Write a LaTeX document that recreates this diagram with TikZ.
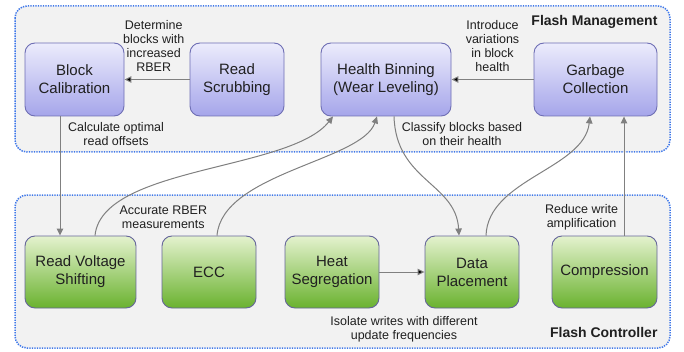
\documentclass[tikz,border=0pt]{standalone}
\usepackage{fontspec}
\setmainfont{Liberation Sans}
\usetikzlibrary{arrows.meta}
\usetikzlibrary{positioning}

\definecolor{panelfill}{HTML}{F2F2F2}
\definecolor{panelline}{HTML}{3F78EA}
\definecolor{mgmttop}{HTML}{ECECFC}
\definecolor{mgmtbot}{HTML}{A5A5EA}
\definecolor{mgmtline}{HTML}{6E6EB4}
\definecolor{ctrltop}{HTML}{E4F2CE}
\definecolor{ctrlbot}{HTML}{6AB22F}
\definecolor{ctrlline}{HTML}{65659A}
\definecolor{flowgray}{HTML}{808080}
\definecolor{txt}{HTML}{202020}

\begin{document}
\begin{tikzpicture}[x=1pt,y=1pt,on grid,text=txt,
		panel/.style={fill=panelfill,draw=panelline,line width=1.5pt,
			dash pattern=on 1.4pt off 1.1pt,rounded corners=12pt},
		mgmt/.style={draw=mgmtline,line width=0.9pt,rounded corners=10pt,
			top color=mgmttop,bottom color=mgmtbot,minimum height=73pt,
			align=center,font=\fontsize{15}{18}\selectfont},
		ctrl/.style={draw=ctrlline,line width=0.9pt,rounded corners=10pt,
			top color=ctrltop,bottom color=ctrlbot,minimum height=72pt,
			align=center,font=\fontsize{15}{18}\selectfont},
		note/.style={align=center,font=\fontsize{12.5}{14}\selectfont},
		title/.style={font=\fontsize{14}{16}\selectfont\bfseries},
		flow/.style={draw=flowgray,line width=1pt,
			-{Triangle[length=7pt,width=6.5pt]}}]
	\useasboundingbox (0,0) rectangle (684,351);

	% the two groups
	\path[panel] (15,345) rectangle (670,199);
	\path[panel] (15,156) rectangle (670,3);

	% flash management
	\node[mgmt,minimum width=99pt] (blockcal) at (74.5,271.5) {Block\\Calibration};
	\node[mgmt,minimum width=94pt] (readscrub) [right=162.5pt of blockcal] {Read\\Scrubbing};
	\node[mgmt,minimum width=130pt] (healthbin) [right=149pt of readscrub] {Health Binning\\(Wear Leveling)};
	\node[mgmt,minimum width=123pt] (garbage) [right=209.5pt of healthbin] {Garbage\\Collection};

	% flash controller
	\node[ctrl,minimum width=111pt] (rvs) at (80.5,79) {Read Voltage\\Shifting};
	\node[ctrl,minimum width=94pt] (ecc) [right=128.5pt of rvs] {ECC};
	\node[ctrl,minimum width=94pt] (heatseg) [right=123pt of ecc] {Heat\\Segregation};
	\node[ctrl,minimum width=94pt] (dataplace) [right=140pt of heatseg] {Data\\Placement};
	\node[ctrl,minimum width=105pt] (compress) [right=132.5pt of dataplace] {Compression};

	\node[title,anchor=east] (mgmttitle) at (661,329) {Flash Management};
	\node[title,anchor=east] (ctrltitle) at (661,19) {Flash Controller};

	\path[flow]
		(readscrub) edge node[note,above=4pt,pos=0.55] {Determine\\blocks with\\increased\\RBER} (blockcal)
		(garbage) edge node[note,above=4pt,pos=0.5] {Introduce\\variations\\in block\\health} (healthbin)
		(heatseg) edge (dataplace);

	\draw[flow] ([xshift=-14.5pt]blockcal.south) -- ([xshift=-14.5pt]blockcal.south |- rvs.north);
	\draw[flow] ([xshift=14.5pt]rvs.north) .. controls (102,185) and (290,180) .. ([xshift=-53pt]healthbin.south);
	\draw[flow] ([xshift=8pt]ecc.north) .. controls (222,178) and (362,190) .. ([xshift=-9pt]healthbin.south);
	\draw[flow] ([xshift=8pt]healthbin.south) .. controls (396,170) and (456,168) .. ([xshift=-13pt]dataplace.north);
	\draw[flow] ([xshift=14pt]dataplace.north) .. controls (488,172) and (584,182) .. ([xshift=-5.5pt]garbage.south);
	\draw[flow] ([xshift=19.5pt]compress.north) -- ([xshift=19.5pt]compress.north |- garbage.south);

	\node[note] (offsets) at (116,217) {Calculate optimal\\read offsets};
	\node[note] (classify) at (462,217) {Classify blocks based\\on their health};
	\node[note,anchor=west] (accurate) at (116,134) {Accurate RBER\\measurements};
	\node[note] (reduce) at (581.5,134) {Reduce write\\amplification};
	\node[note] (isolate) at (404,22) {Isolate writes with different\\update frequencies};
\end{tikzpicture}
\end{document}
